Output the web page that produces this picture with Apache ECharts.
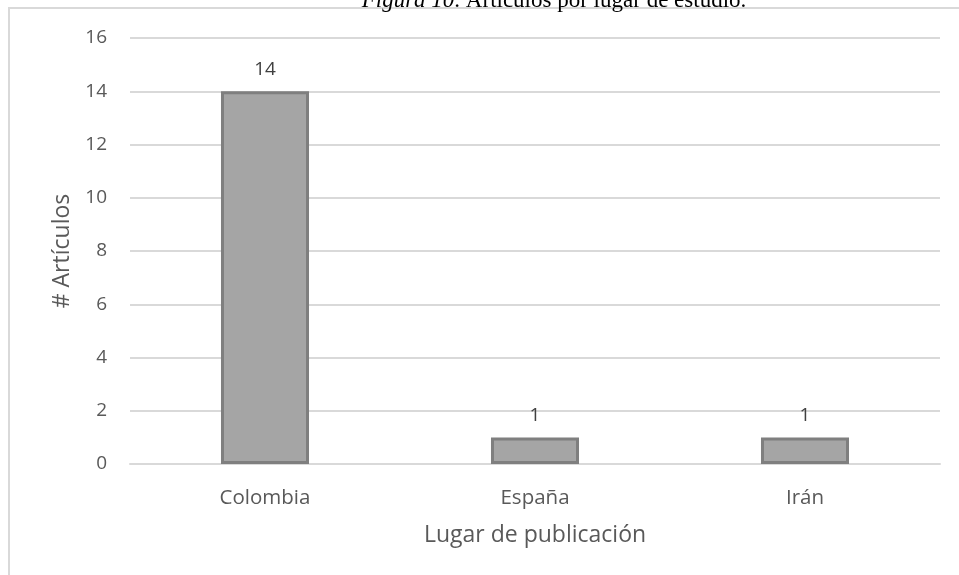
<!DOCTYPE html>
<html><head><meta charset="utf-8">
<script src="https://cdn.jsdelivr.net/npm/echarts@6/dist/echarts.min.js"></script>
<style>html,body{margin:0;padding:0;background:#fff}#c{width:959px;height:575px}</style>
</head><body><div id="c"></div>
<script>
const categories = ['Colombia', 'España', 'Irán'];
const values = [14, 1, 1];
const yTicks = [0, 2, 4, 6, 8, 10, 12, 14, 16];

const chart = echarts.init(document.getElementById('c'));
const font = '"Open Sans", "Liberation Sans", sans-serif';
chart.setOption({
  animation: false,
  backgroundColor: '#fff',
  graphic: [
    { type: 'rect', shape: { x: 9, y: 8, width: 960, height: 580 }, style: { fill: 'none', stroke: '#d9d9d9', lineWidth: 2 }, silent: true },
    { type: 'text', x: 554, y: 12, style: {
        text: '{i|Figura 10}{n|. Artículos por lugar de estudio.}',
        align: 'center', verticalAlign: 'bottom',
        rich: {
          i: { fontFamily: '"Liberation Serif", "DejaVu Serif", serif', fontStyle: 'italic', fontSize: 23, fill: '#000' },
          n: { fontFamily: '"Liberation Serif", "DejaVu Serif", serif', fontSize: 23, fill: '#000' }
        }
      } }
  ],
  grid: { left: 130, right: 19, top: 38, bottom: 111, containLabel: false },
  xAxis: {
    type: 'category', data: categories,
    name: 'Lugar de publicación', nameLocation: 'middle', nameGap: 60,
    nameTextStyle: { color: '#595959', fontSize: 23, fontFamily: font },
    axisLine: { show: true, lineStyle: { color: '#d9d9d9', width: 2 } },
    axisTick: { show: false },
    axisLabel: { color: '#595959', fontSize: 20.5, fontFamily: font, margin: 24 }
  },
  yAxis: {
    type: 'value', min: 0, max: 16, interval: 2,
    name: '# Artículos', nameLocation: 'middle', nameGap: 55,
    nameTextStyle: { color: '#595959', fontSize: 23, fontFamily: font },
    axisLine: { show: false }, axisTick: { show: false },
    axisLabel: { color: '#595959', fontSize: 19, fontFamily: font, margin: 23,
      formatter: v => yTicks.includes(v) ? String(v) : '' },
    splitLine: { lineStyle: { color: '#d9d9d9', width: 2 } }
  },
  series: [{
    type: 'bar', data: values, barWidth: '32.6%',
    itemStyle: { color: '#a5a5a5', borderColor: '#7f7f7f', borderWidth: 3 },
    label: { show: true, position: 'top', distance: 12, color: '#404040', fontSize: 19, fontFamily: font }
  }]
});
</script></body></html>
